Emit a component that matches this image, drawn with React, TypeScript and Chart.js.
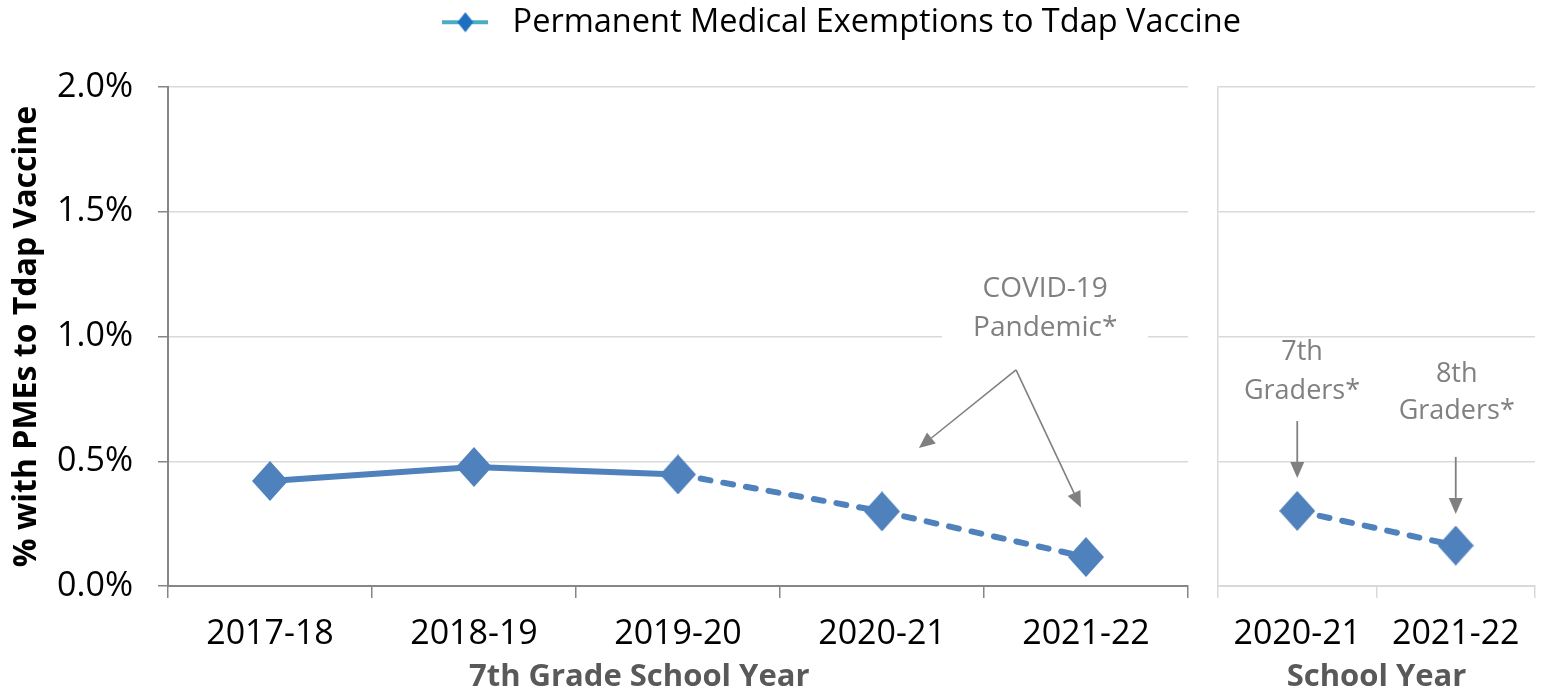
import React, { useEffect, useRef } from 'react';
import { Chart, registerables } from 'chart.js';

Chart.register(...registerables);

// ---------- data ----------
const gradeYears = ['2017-18', '2018-19', '2019-20', '2020-21', '2021-22'];
const gradePmeRates = [0.421, 0.477, 0.447, 0.299, 0.116];
const schoolYears = ['2020-21', '2021-22'];
const schoolYearPmeRates = [0.301, 0.162];
const yTickValues = [0, 0.5, 1.0, 1.5, 2.0];
const legendLabel = 'Permanent Medical Exemptions to Tdap Vaccine';
const leftAxisTitle = '% with PMEs to Tdap Vaccine';
const gradeAxisTitle = '7th Grade School Year';
const schoolAxisTitle = 'School Year';
const covidNote = ['COVID-19', 'Pandemic*'];
const seventhNote = ['7th', 'Graders*'];
const eighthNote = ['8th', 'Graders*'];
const solidUntilIndex = 2; // segments starting at 2019-20 onward are dashed

// ---------- styles ----------
const FONT = 'Open Sans';
const LINE_BLUE = '#4F81BD';
const GRID = '#d9d9d9';
const AXIS = '#868686';
const NOTE = '#808080';
const TITLE_GRAY = '#595959';

function makeDiamond(w: number, h: number, color: string) {
  const c = document.createElement('canvas');
  c.width = w;
  c.height = h;
  const g = c.getContext('2d')!;
  g.fillStyle = color;
  g.beginPath();
  g.moveTo(w / 2, 0);
  g.lineTo(w, h / 2);
  g.lineTo(w / 2, h);
  g.lineTo(0, h / 2);
  g.closePath();
  g.fill();
  return c;
}

function makeLegendIcon() {
  const c = document.createElement('canvas');
  c.width = 46;
  c.height = 22;
  const g = c.getContext('2d')!;
  g.strokeStyle = '#4BACC6';
  g.lineWidth = 4;
  g.beginPath();
  g.moveTo(0, 11);
  g.lineTo(46, 11);
  g.stroke();
  g.fillStyle = '#1F6FC0';
  g.beginPath();
  g.moveTo(23, 1);
  g.lineTo(31, 11);
  g.lineTo(23, 21);
  g.lineTo(15, 11);
  g.closePath();
  g.fill();
  return c;
}

function drawArrow(ctx: CanvasRenderingContext2D, x1: number, y1: number, x2: number, y2: number) {
  const ang = Math.atan2(y2 - y1, x2 - x1);
  const hl = 16;
  const hw = 7;
  const bx = x2 - hl * Math.cos(ang);
  const by = y2 - hl * Math.sin(ang);
  ctx.beginPath();
  ctx.moveTo(x1, y1);
  ctx.lineTo(bx, by);
  ctx.stroke();
  ctx.beginPath();
  ctx.moveTo(x2, y2);
  ctx.lineTo(bx + hw * Math.sin(ang), by - hw * Math.cos(ang));
  ctx.lineTo(bx - hw * Math.sin(ang), by + hw * Math.cos(ang));
  ctx.closePath();
  ctx.fill();
}

function drawNote(ctx: CanvasRenderingContext2D, lines: string[], x: number, y1: number, y2: number, size: number) {
  ctx.font = `${size}px "${FONT}"`;
  ctx.fillStyle = NOTE;
  ctx.textAlign = 'center';
  ctx.textBaseline = 'middle';
  ctx.fillText(lines[0], x, y1);
  ctx.fillText(lines[1], x, y2);
}

const tickFormat = (v: any) => Number(v).toFixed(1) + '%';

export default function App() {
  const leftRef = useRef<HTMLCanvasElement>(null);
  const rightRef = useRef<HTMLCanvasElement>(null);

  useEffect(() => {
    const diamond = makeDiamond(36, 40, LINE_BLUE);
    const legendIcon = makeLegendIcon();
    const transparent = 'rgba(0,0,0,0)';

    const leftNotes = {
      id: 'leftNotes',
      afterDraw(chart: any) {
        const { ctx } = chart;
        const xs = chart.scales.x;
        const ys = chart.scales.y;
        const px = (v: number) => xs.getPixelForValue(v);
        const py = (v: number) => ys.getPixelForValue(v);
        ctx.save();
        ctx.fillStyle = '#ffffff';
        ctx.fillRect(px(3.294), py(1.27), px(4.304) - px(3.294), py(0.97) - py(1.27));
        drawNote(ctx, covidNote, px(3.8), py(1.19), py(1.034), 28);
        ctx.strokeStyle = NOTE;
        ctx.fillStyle = NOTE;
        ctx.lineWidth = 1.6;
        drawArrow(ctx, px(3.657), py(0.866), px(3.181), py(0.553));
        drawArrow(ctx, px(3.657), py(0.866), px(3.975), py(0.3146));
        ctx.restore();
      },
    };

    const rightNotes = {
      id: 'rightNotes',
      afterDraw(chart: any) {
        const { ctx } = chart;
        const xs = chart.scales.x;
        const ys = chart.scales.y;
        const px = (v: number) => xs.getPixelForValue(v);
        const py = (v: number) => ys.getPixelForValue(v);
        ctx.save();
        drawNote(ctx, seventhNote, px(0.03), py(0.938), py(0.782), 27);
        drawNote(ctx, eighthNote, px(1.006), py(0.85), py(0.701), 27);
        ctx.strokeStyle = NOTE;
        ctx.fillStyle = NOTE;
        ctx.lineWidth = 1.8;
        drawArrow(ctx, px(0), py(0.661), px(0), py(0.433));
        drawArrow(ctx, px(1), py(0.517), px(1), py(0.289));
        ctx.restore();
      },
    };

    const tickFont = { family: FONT, size: 34 };
    const titleFont = { family: FONT, size: 31, weight: 'bold' as const };
    const yTitleFont = { family: FONT, size: 32, weight: 'bold' as const };

    const left = new Chart(leftRef.current!, {
      type: 'line',
      data: {
        labels: gradeYears,
        datasets: [
          {
            label: legendLabel,
            data: gradePmeRates,
            borderColor: LINE_BLUE,
            backgroundColor: LINE_BLUE,
            borderWidth: 6,
            borderCapStyle: 'round',
            borderJoinStyle: 'round',
            tension: 0,
            fill: false,
            pointStyle: diamond as any,
            pointRadius: 18,
            segment: {
              borderDash: (ctx: any) => (ctx.p0DataIndex >= solidUntilIndex ? [10, 13] : undefined),
            },
          },
        ],
      },
      plugins: [leftNotes],
      options: {
        responsive: false,
        animation: false,
        events: [],
        layout: { autoPadding: false, padding: { left: 0, right: 302, top: 0, bottom: 0 } },
        plugins: {
          tooltip: { enabled: false },
          legend: {
            position: 'top',
            align: 'end',
            labels: {
              usePointStyle: true,
              pointStyleWidth: 62,
              padding: 6,
              color: '#000',
              font: { family: FONT, size: 32.5 },
              generateLabels: () => [
                {
                  text: legendLabel,
                  pointStyle: legendIcon as any,
                  fillStyle: LINE_BLUE,
                  strokeStyle: LINE_BLUE,
                  lineWidth: 0,
                  hidden: false,
                  datasetIndex: 0,
                  fontColor: '#000',
                } as any,
              ],
            },
          },
        },
        scales: {
          x: {
            type: 'category',
            offset: true,
            grid: {
              offset: true,
              color: (c: any) => (c.index === gradeYears.length ? GRID : transparent),
              lineWidth: 1.5,
              tickColor: AXIS,
              tickLength: 12,
            },
            border: { color: AXIS, width: 2 },
            ticks: { font: tickFont, color: '#000', padding: 16, maxRotation: 0 },
            title: {
              display: true,
              // trailing em/en spaces shift the centred title left, as in the original layout
              text: gradeAxisTitle + '\u2003\u2003\u2002',
              font: titleFont,
              color: TITLE_GRAY,
              padding: { top: 0, bottom: 0 },
            },
            afterFit: (s: any) => {
              s.height = 110;
            },
          },
          xTop: {
            type: 'category',
            position: 'top',
            grid: { display: false },
            ticks: { display: false },
            border: { display: false },
            afterFit: (s: any) => {
              s.height = 38.5;
            },
          },
          y: {
            type: 'linear',
            min: 0,
            max: 2,
            afterBuildTicks: (s: any) => {
              s.ticks = yTickValues.map((v) => ({ value: v }));
            },
            ticks: { font: tickFont, color: '#000', padding: 25, callback: tickFormat },
            grid: { color: GRID, lineWidth: 1.5, tickColor: AXIS, tickLength: 10 },
            border: { color: AXIS, width: 2 },
            title: {
              display: true,
              text: leftAxisTitle,
              font: yTitleFont,
              color: '#000',
              padding: { top: 8, bottom: 0 },
            },
            afterFit: (s: any) => {
              s.width = 168;
            },
          },
          yRight: {
            type: 'linear',
            position: 'right',
            grid: { display: false },
            ticks: { display: false },
            border: { display: false },
            afterFit: (s: any) => {
              s.width = 59;
            },
          },
        },
      } as any,
    });

    const right = new Chart(rightRef.current!, {
      type: 'line',
      data: {
        labels: schoolYears,
        datasets: [
          {
            label: legendLabel,
            data: schoolYearPmeRates,
            borderColor: LINE_BLUE,
            backgroundColor: LINE_BLUE,
            borderWidth: 6,
            borderCapStyle: 'round',
            borderDash: [10, 13],
            tension: 0,
            fill: false,
            pointStyle: diamond as any,
            pointRadius: 18,
          },
        ],
      },
      plugins: [rightNotes],
      options: {
        responsive: false,
        animation: false,
        events: [],
        layout: { autoPadding: false, padding: { left: 18, right: 14, top: 87, bottom: 0 } },
        plugins: { legend: { display: false }, tooltip: { enabled: false } },
        scales: {
          x: {
            type: 'category',
            offset: true,
            grid: {
              offset: true,
              color: (c: any) => (c.index === schoolYears.length ? GRID : transparent),
              lineWidth: 1.5,
              tickColor: GRID,
              tickLength: 12,
            },
            border: { color: GRID, width: 2 },
            ticks: { font: tickFont, color: '#000', padding: 16, maxRotation: 0 },
            title: {
              display: true,
              text: schoolAxisTitle,
              font: titleFont,
              color: TITLE_GRAY,
              padding: { top: 0, bottom: 0 },
            },
            afterFit: (s: any) => {
              s.height = 110;
            },
          },
          y: {
            type: 'linear',
            min: 0,
            max: 2,
            afterBuildTicks: (s: any) => {
              s.ticks = yTickValues.map((v) => ({ value: v }));
            },
            ticks: { display: false },
            grid: { color: GRID, lineWidth: 1.5, drawTicks: false },
            border: { color: GRID, width: 1.5 },
            afterFit: (s: any) => {
              s.width = 0;
            },
          },
        },
      } as any,
    });

    return () => {
      left.destroy();
      right.destroy();
    };
  }, []);

  return (
    <div
      style={{
        position: 'absolute',
        left: 0,
        top: 0,
        width: 1549,
        height: 696,
        overflow: 'hidden',
        background: '#ffffff',
      }}
    >
      <canvas
        ref={leftRef}
        width={1549}
        height={696}
        style={{ position: 'absolute', left: 0, top: 0, width: 1549, height: 696 }}
      />
      <canvas
        ref={rightRef}
        width={349}
        height={696}
        style={{ position: 'absolute', left: 1200, top: 0, width: 349, height: 696 }}
      />
    </div>
  );
}
